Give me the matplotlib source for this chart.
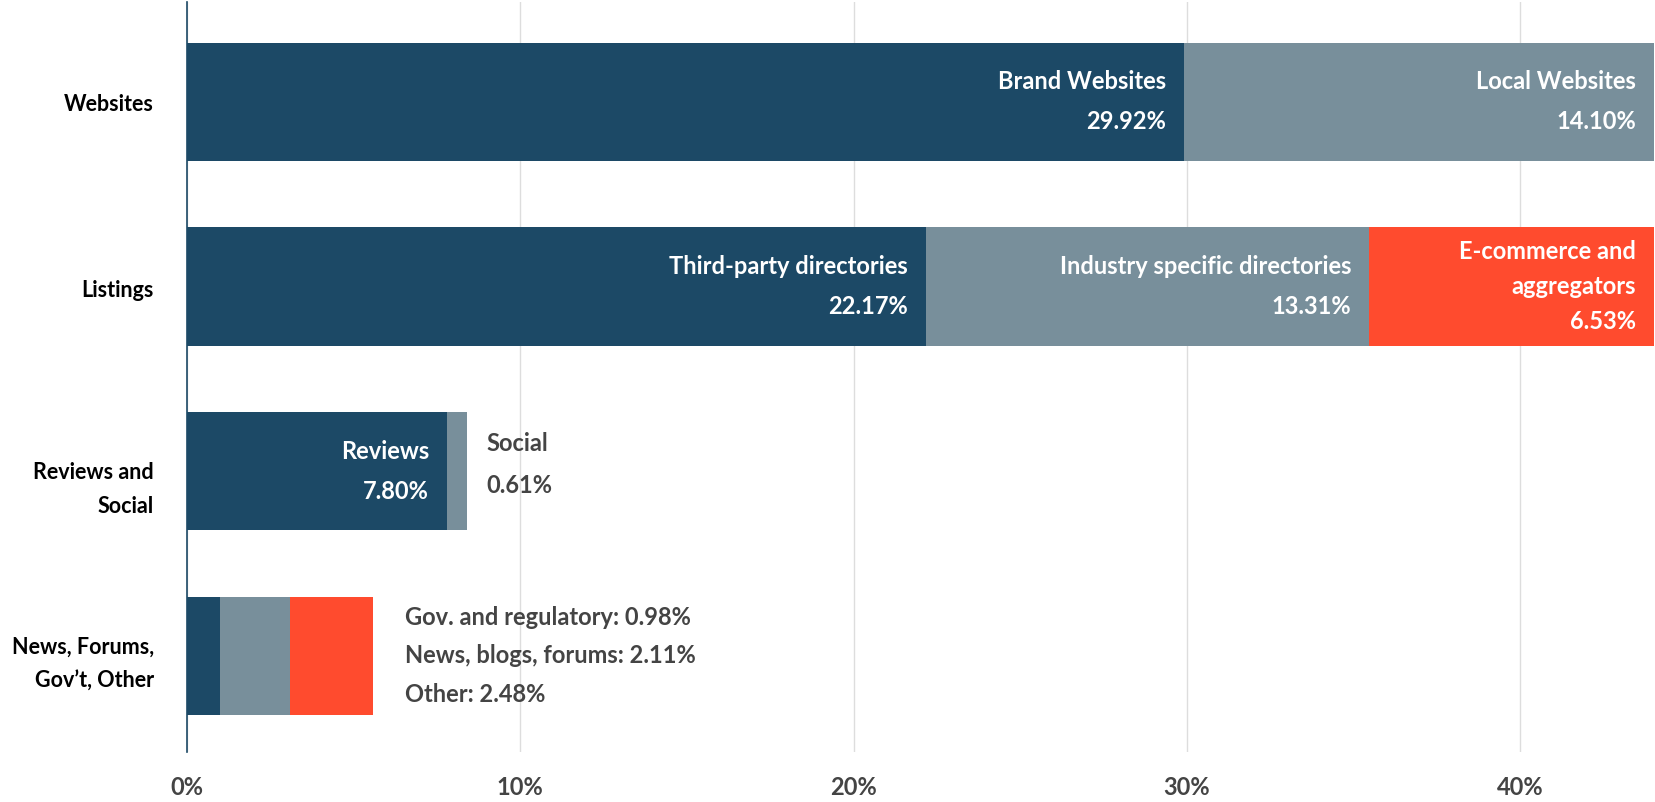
import matplotlib.pyplot as plt
from matplotlib.ticker import FuncFormatter

plt.rcParams['font.family'] = ['Lato', 'DejaVu Sans']
plt.rcParams['font.weight'] = 'bold'

# data
categories = ["Websites", "Listings", "Reviews and\nSocial", "News, Forums,\nGov\u2019t, Other"]
seg1 = [29.92, 22.17, 7.80, 0.98]
seg2 = [14.10, 13.31, 0.61, 2.11]
seg3 = [0.0, 6.53, 0.0, 2.48]
names1 = ["Brand Websites", "Third-party directories", "Reviews", "Gov. and regulatory"]
names2 = ["Local Websites", "Industry specific directories", "Social", "News, blogs, forums"]
names3 = ["", "E-commerce and\naggregators", "", "Other"]

dark = "#1c4966"
grey = "#788f9b"
red = "#ff4b2e"

fig = plt.figure(figsize=(16.56, 8.02), dpi=100)
ax = fig.add_axes([187 / 1656, 50 / 802, 1467 / 1656, 750 / 802])

y = list(range(len(categories)))
h = 0.64
left3 = [a + b for a, b in zip(seg1, seg2)]
xmax = max(a + b + c for a, b, c in zip(seg1, seg2, seg3))
xmax = max(xmax, seg1[0] + seg2[0])
# the reference draws the listings' last segment out to the right edge
draw3 = [(xmax - l) if (i == 1) else s for i, (l, s) in enumerate(zip(left3, seg3))]

ax.barh(y, seg1, height=h, color=dark, zorder=2)
ax.barh(y, seg2, left=seg1, height=h, color=grey, zorder=2)
ax.barh(y, draw3, left=left3, height=h, color=red, zorder=2)

fs = 17


def inside(x, yy, name, val):
    lines = name.split("\n") + ["%.2f%%" % val]
    n = len(lines)
    gap = 29 if n == 2 else 25
    for i, t in enumerate(lines):
        off = -(i - (n - 1) / 2) * gap
        ax.annotate(t, (x, yy), xytext=(-13, off), textcoords="offset points",
                    ha="right", va="center", color="white", fontsize=fs)


# first two rows: labels inside the segments
for i in range(2):
    inside(seg1[i], i, names1[i], seg1[i])
    inside(left3[i], i, names2[i], seg2[i])
    if seg3[i] > 0:
        inside(left3[i] + draw3[i], i, names3[i], seg3[i])

# reviews and social
inside(seg1[2], 2, names1[2], seg1[2])
end2 = left3[2]
ax.annotate(names2[2], (end2, 2), xytext=(14, 20), textcoords="offset points",
            ha="left", va="center", color="#444444", fontsize=fs)
ax.annotate("%.2f%%" % seg2[2], (end2, 2), xytext=(14, -10), textcoords="offset points",
            ha="left", va="center", color="#444444", fontsize=fs)

# last row: labels outside
end3 = left3[3] + seg3[3]
small = [(names1[3], seg1[3]), (names2[3], seg2[3]), (names3[3], seg3[3])]
for k, (nm, v) in enumerate(small):
    ax.annotate("%s: %.2f%%" % (nm, v), (end3, 3), xytext=(23, (1 - k) * 28),
                textcoords="offset points", ha="left", va="center",
                color="#444444", fontsize=fs)

# category labels
cat_shift = [-2, -3, -13, -6]
for i, c in enumerate(categories):
    ax.annotate(c, (0, i), xycoords=("axes fraction", "data"),
                xytext=(-24, cat_shift[i]), textcoords="offset points",
                ha="right", va="center", multialignment="right",
                fontsize=15.5, color="black", linespacing=1.75)

ax.set_xlim(0, xmax)
ax.set_ylim(3.52, -0.54)
ax.set_yticks(y)
ax.set_yticklabels([])
ax.set_xticks([0, 10, 20, 30, 40])
ax.xaxis.set_major_formatter(FuncFormatter(lambda v, p: "%d%%" % v))
ax.tick_params(axis="x", length=0, pad=17, labelsize=17, labelcolor="#444444")
ax.tick_params(axis="y", length=0)
ax.grid(axis="x", color="#dddddd", linewidth=1, zorder=0)
ax.set_axisbelow(True)
for s in ["top", "right", "bottom"]:
    ax.spines[s].set_visible(False)
ax.spines["left"].set_color(dark)
ax.spines["left"].set_linewidth(1.2)
ax.spines["left"].set_zorder(3)

plt.savefig("out.png")
